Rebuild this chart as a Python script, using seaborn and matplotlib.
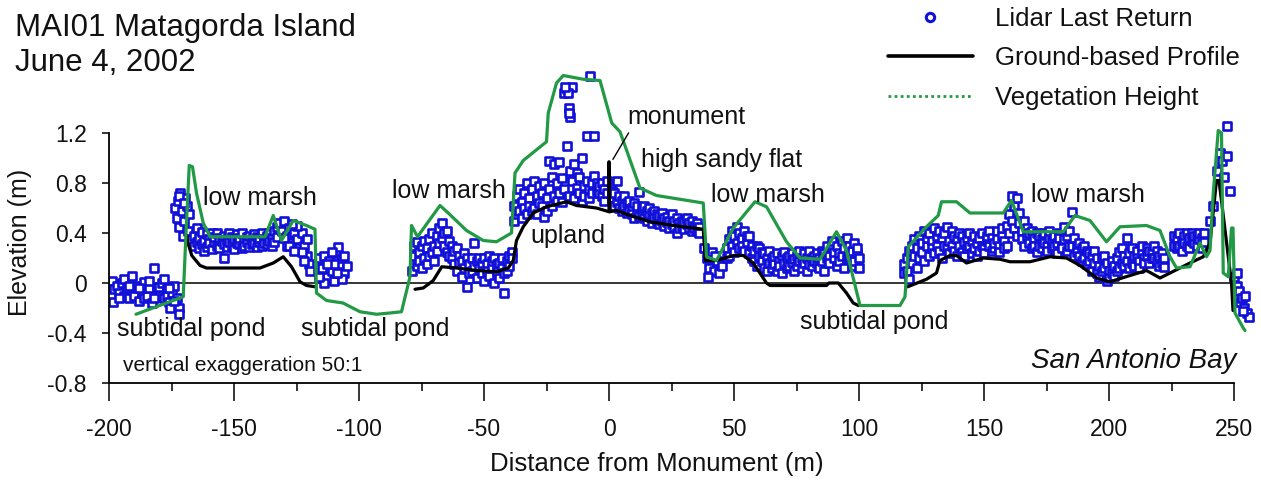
import matplotlib
matplotlib.use("Agg")
import matplotlib.pyplot as plt
import seaborn as sns
import pandas as pd
from matplotlib.lines import Line2D

# ---------------- data ----------------
title_lines = ["MAI01 Matagorda Island", "June 4, 2002"]
series_names = ["Lidar Last Return", "Ground-based Profile", "Vegetation Height"]
x_label = "Distance from Monument (m)"
y_label = "Elevation (m)"
xtick_values = [-200, -150, -100, -50, 0, 50, 100, 150, 200, 250]
xtick_labels = ["-200", "-150", "-100", "-50", "0", "50", "100", "150", "200", "250"]
xminor_values = [-175, -125, -75, -25, 25, 75, 125, 175, 225]
ytick_values = [-0.8, -0.4, 0, 0.4, 0.8, 1.2]
ytick_labels = ["-0.8", "-0.4", "0", "0.4", "0.8", "1.2"]

veg_x = [-189.2, -170.3, -169.2, -167.9, -166.6, -165.0, -162.3, -159.6, -137.6, -134.3,
         -131.0, -126.3, -121.0, -117.6, -117.0, -113.0, -106.4, -99.6, -93.0, -87.6,
         -83.0, -79.6, -79.0, -76.6, -67.6, -64.3, -57.0, -50.3, -45.0, -39.0,
         -37.6, -34.3, -25.0, -24.3, -21.0, -18.3, -10.3, -3.6, 1.1, 4.4,
         12.4, 19.0, 37.7, 39.0, 43.0, 49.7, 58.4, 63.0, 71.0, 76.4,
         84.4, 91.0, 95.0, 100.4, 116.4, 118.4, 119.7, 127.0, 131.7, 133.0,
         139.0, 144.4, 157.7, 161.0, 165.7, 181.7, 186.4, 192.4, 199.0, 204.4,
         215.0, 220.4, 224.4, 227.0, 232.4, 236.4, 239.0, 240.4, 241.7, 243.7,
         245.0, 245.7, 247.7, 249.0, 249.6, 250.4, 253.7, 254.4]
veg_y = [-0.25, -0.11, 0.40, 0.94, 0.93, 0.72, 0.48, 0.37, 0.37, 0.54,
         0.34, 0.50, 0.46, 0.43, -0.08, -0.14, -0.16, -0.23, -0.25, -0.24,
         -0.23, 0.05, 0.46, 0.37, 0.62, 0.56, 0.42, 0.34, 0.33, 0.40,
         0.88, 0.98, 1.13, 1.36, 1.60, 1.66, 1.63, 1.62, 1.28, 1.21,
         0.76, 0.70, 0.64, 0.21, 0.18, 0.44, 0.65, 0.61, 0.33, 0.20,
         0.19, 0.41, 0.26, -0.18, -0.18, -0.11, 0.29, 0.45, 0.54, 0.65,
         0.65, 0.56, 0.56, 0.66, 0.41, 0.41, 0.54, 0.50, 0.33, 0.45,
         0.46, 0.42, 0.21, 0.12, 0.13, 0.32, 0.21, 0.26, 0.72, 1.22,
         1.20, 0.08, 0.05, 0.44, 0.44, -0.24, -0.36, -0.38]

ground_x_1 = [-168.8, -168.7, -166.9, -163.6, -161.0, -139.6, -134.3, -130.3, -127.0, -123.6, -121.0, -117.6]
ground_y_1 = [0.38, 0.34, 0.22, 0.14, 0.12, 0.12, 0.16, 0.21, 0.13, 0.01, -0.02, -0.03]
ground_x_2 = [-77.6, -74.3, -70.3, -66.9, -61.0, -53.0, -45.0, -40.3, -38.3, -37.0, -34.3, -30.3, -25.0,
              -17.0, -13.0, -5.0, 0.0, 0.0, 0.3, 3.0, 8.4, 16.4, 25.7, 37.7, 38.5, 43.0, 49.7, 53.7,
              57.7, 63.0, 64.4, 87.0, 88.0, 91.7, 95.0, 97.7, 99.7]
ground_y_2 = [-0.05, -0.04, 0.02, 0.13, 0.12, 0.10, 0.09, 0.12, 0.18, 0.34, 0.45, 0.56, 0.61,
              0.65, 0.62, 0.60, 0.57, 0.97, 0.57, 0.58, 0.54, 0.49, 0.46, 0.43, 0.18, 0.18, 0.22, 0.22,
              0.16, 0.00, -0.02, -0.02, 0.00, 0.00, -0.08, -0.16, -0.18]
ground_x_3 = [119.5, 127.0, 131.0, 132.4, 136.4, 139.0, 143.0, 149.7, 156.4, 160.4, 168.4, 176.4,
              183.0, 188.4, 192.4, 195.0, 200.4, 208.4, 215.0, 220.4, 224.4, 232.4, 237.7, 240.4,
              243.0, 244.0, 249.0, 249.6]
ground_y_3 = [-0.03, 0.03, 0.08, 0.18, 0.22, 0.22, 0.16, 0.20, 0.19, 0.17, 0.17, 0.21,
              0.20, 0.14, 0.08, 0.04, 0.01, 0.06, 0.10, 0.04, 0.08, 0.16, 0.21, 0.32,
              0.82, 0.82, 0.00, -0.22]

lidar_pond_west = [(-199, 0.02), (-198.5, -0.15), (-198, -0.05), (-197, -0.02), (-196, -0.08), (-195, 0.0),
                   (-194, -0.1), (-194, 0.03), (-193, -0.04), (-192, -0.12), (-191, 0.06), (-190, -0.06),
                   (-190, -0.1), (-189, -0.02), (-188, -0.14), (-187, -0.08), (-186, 0.01), (-186, -0.12),
                   (-185, -0.1), (-184, -0.04), (-184, 0.02), (-183, -0.16), (-182, 0.12), (-181, -0.06),
                   (-180, -0.1), (-180, -0.03), (-179, 0.0), (-178, -0.12), (-178, 0.03), (-177, -0.05),
                   (-177, -0.1), (-176, -0.15), (-175.5, -0.2), (-175, -0.08), (-174, -0.02), (-173, -0.12),
                   (-172, -0.2), (-172, -0.25), (-196, -0.12), (-192, -0.02), (-188, -0.04), (-182, -0.12),
                   (-176, -0.04), (-174, -0.14)]
lidar_marsh_1 = [(-173.5, 0.6), (-173, 0.52), (-172.5, 0.66), (-172, 0.45), (-171.5, 0.72), (-171, 0.58),
                 (-170.5, 0.38), (-170, 0.5), (-169.5, 0.68), (-169, 0.62), (-168.5, 0.42), (-168, 0.55),
                 (-172, 0.7), (-170, 0.64),
                 (-166, 0.38), (-166, 0.30), (-165, 0.44), (-165, 0.33), (-164, 0.36), (-164, 0.28),
                 (-163, 0.41), (-163, 0.31), (-162, 0.34), (-162, 0.26), (-161, 0.39), (-161, 0.29),
                 (-160, 0.35), (-160, 0.32), (-159, 0.40), (-159, 0.27), (-158, 0.33), (-158, 0.37),
                 (-157, 0.30), (-157, 0.40), (-156, 0.36), (-156, 0.28), (-155, 0.34), (-154, 0.20),
                 (-154, 0.38), (-154, 0.31), (-153, 0.29), (-153, 0.35), (-152, 0.40), (-152, 0.33),
                 (-151, 0.30), (-151, 0.37), (-150, 0.35), (-150, 0.27), (-149, 0.39), (-149, 0.32),
                 (-148, 0.31), (-148, 0.36), (-147, 0.40), (-147, 0.28), (-146, 0.34), (-146, 0.30),
                 (-145, 0.37), (-145, 0.33), (-144, 0.29), (-144, 0.38), (-143, 0.35), (-143, 0.31),
                 (-142, 0.32), (-142, 0.39), (-141, 0.37), (-141, 0.29), (-140, 0.33), (-140, 0.36),
                 (-139, 0.40), (-139, 0.30), (-138, 0.35), (-138, 0.32), (-137, 0.38), (-137, 0.31),
                 (-136, 0.34), (-136, 0.40), (-135, 0.36), (-135, 0.30), (-134, 0.42), (-134, 0.33),
                 (-133, 0.37), (-133, 0.45),
                 (-132, 0.48), (-131, 0.42), (-130, 0.5), (-129, 0.38), (-128, 0.44), (-127, 0.32),
                 (-126, 0.4), (-125, 0.35), (-124, 0.28), (-123, 0.4), (-122, 0.3), (-121, 0.22),
                 (-120, 0.15), (-121, 0.35), (-123, 0.25), (-125, 0.46), (-127, 0.47), (-129, 0.3),
                 (-119.5, 0.1), (-122, 0.18), (-130, 0.36), (-128, 0.3), (-126, 0.26),
                 (-116, 0.2), (-115, 0.12), (-114, 0.22), (-113, 0.05), (-112, 0.18), (-111, 0.1),
                 (-110, 0.02), (-109, 0.24), (-108.5, 0.29), (-108, 0.15), (-107, 0.2), (-106, 0.08),
                 (-105, 0.14), (-114, 0.0), (-111, 0.25), (-107, 0.03), (-116, 0.05), (-110, 0.15),
                 (-113, 0.15), (-109, 0.08), (-106, 0.22)]
lidar_marsh_2 = [(-79, 0.1), (-78, 0.22), (-78, 0.3), (-77, 0.14), (-77, 0.33), (-76, 0.25), (-76, 0.18),
                 (-75, 0.3), (-75, 0.12), (-74, 0.2), (-74, 0.34), (-73, 0.28), (-73, 0.15), (-72, 0.35),
                 (-72, 0.22), (-71, 0.25), (-71, 0.4), (-70, 0.3), (-70, 0.18), (-69, 0.38), (-69, 0.26),
                 (-68, 0.32), (-68, 0.44), (-67, 0.48), (-67, 0.36), (-66, 0.4), (-66, 0.3), (-65, 0.42),
                 (-65, 0.25), (-64, 0.34), (-64, 0.22), (-63, 0.3), (-63, 0.2), (-62, 0.26), (-62, 0.15),
                 (-61, 0.28), (-61, 0.1), (-60, 0.22), (-60, 0.16), (-59, 0.18), (-59, 0.05), (-58, 0.24),
                 (-58, 0.12), (-57, -0.03), (-57, 0.2), (-56, 0.15), (-56, 0.08), (-55, 0.2), (-55, 0.1),
                 (-54, 0.32), (-54, 0.14), (-53, 0.18), (-53, 0.04), (-52, 0.2), (-52, 0.12), (-51, 0.08),
                 (-51, 0.16), (-50, 0.2), (-50, 0.02), (-49, 0.15), (-49, 0.1), (-48, 0.22), (-48, 0.06),
                 (-47, 0.12), (-47, 0.18), (-46, 0.2), (-46, 0.0), (-45, 0.1), (-45, 0.15), (-44, 0.16),
                 (-44, 0.04), (-43, 0.2), (-43, 0.12), (-42, -0.08), (-42, 0.08), (-41, 0.18), (-41, 0.1),
                 (-40, 0.22), (-40, 0.14), (-39, 0.25), (-39, 0.2)]
lidar_upland = [(-38, 0.5), (-38, 0.62), (-37, 0.7), (-37, 0.55), (-36, 0.58), (-36, 0.75), (-35, 0.65),
                (-35, 0.52), (-34, 0.72), (-34, 0.6), (-33, 0.55), (-33, 0.8), (-32, 0.68), (-32, 0.62),
                (-31, 0.75), (-31, 0.58), (-30, 0.6), (-30, 0.82), (-29, 0.7), (-29, 0.55), (-28, 0.78),
                (-28, 0.64), (-27, 0.62), (-27, 0.72), (-26, 0.53), (-26, 0.8), (-25, 0.68), (-25, 0.58),
                (-24, 0.75), (-24, 0.98), (-23, 0.62), (-23, 0.85), (-22, 0.7), (-22, 0.95), (-21, 0.8),
                (-21, 0.66), (-20, 0.72), (-20, 0.97), (-19, 0.65), (-19, 0.84), (-18, 1.52), (-18, 0.75),
                (-17, 1.55), (-17, 1.1), (-16, 1.4), (-16, 0.7), (-15.5, 1.33), (-15.5, 0.9), (-15, 1.57),
                (-15, 0.82), (-14, 0.95), (-14, 0.68), (-13, 0.88), (-13, 0.76), (-12, 0.72), (-12, 0.85),
                (-11, 1.0), (-11, 0.66), (-10, 0.78), (-10, 0.7), (-9, 1.18), (-9, 0.82), (-8, 0.75),
                (-8, 0.68), (-7.5, 1.66), (-7, 0.8), (-7, 0.72), (-6, 1.18), (-6, 0.86), (-5, 0.74),
                (-5, 0.8), (-16.5, 1.52), (-17.5, 1.57), (-16, 1.36)]
lidar_sandy_flat = [(-4, 0.72), (-4, 0.78), (-3, 0.8), (-3, 0.7), (-2, 0.75), (-2, 0.66), (-1, 0.82),
                    (-1, 0.72), (1, 0.68), (1, 0.74), (2, 0.62), (2, 0.72), (3, 0.82), (3, 0.65), (4, 0.6),
                    (4, 0.7), (5, 0.66), (5, 0.58), (6, 0.7), (6, 0.62), (7, 0.56), (7, 0.64), (8, 0.66),
                    (8, 0.58), (9, 0.6), (9, 0.55), (10, 0.64), (10, 0.52), (11, 0.58), (11, 0.62),
                    (12, 0.73), (12, 0.54), (13, 0.56), (13, 0.6), (14, 0.52), (14, 0.62), (15, 0.58),
                    (15, 0.5), (16, 0.55), (16, 0.6), (17, 0.48), (17, 0.56), (18, 0.58), (18, 0.52),
                    (19, 0.5), (19, 0.55), (20, 0.54), (20, 0.47), (21, 0.56), (21, 0.5), (22, 0.46),
                    (22, 0.52), (23, 0.53), (23, 0.49), (24, 0.5), (24, 0.44), (25, 0.55), (25, 0.47),
                    (26, 0.45), (26, 0.5), (27, 0.4), (27, 0.52), (28, 0.48), (28, 0.44), (29, 0.5),
                    (29, 0.46), (30, 0.43), (30, 0.49), (31, 0.47), (31, 0.52), (32, 0.44), (32, 0.48),
                    (33, 0.5), (33, 0.42), (34, 0.46), (34, 0.44), (35, 0.42), (35, 0.48), (36, 0.45),
                    (36, 0.4)]
lidar_marsh_3 = [(38, 0.28), (39, 0.2), (40, 0.12), (41, 0.25), (42, 0.1), (43, 0.18), (44, 0.08), (45, 0.14),
                 (39.5, 0.05), (42.5, 0.22),
                 (47, 0.28), (47, 0.2), (48, 0.35), (48, 0.22), (49, 0.42), (49, 0.3), (50, 0.38), (50, 0.25),
                 (51, 0.45), (51, 0.32), (52, 0.4), (52, 0.28), (53, 0.36), (53, 0.3), (54, 0.42), (54, 0.26),
                 (55, 0.33), (55, 0.38), (56, 0.38), (56, 0.24), (57, 0.3), (57, 0.2), (58, 0.26), (58, 0.18),
                 (59, 0.3), (59, 0.14), (60, 0.22), (60, 0.28), (61, 0.18), (61, 0.25), (62, 0.24), (62, 0.12),
                 (63, 0.1), (63, 0.2), (64, 0.26), (64, 0.16), (65, 0.2), (65, 0.12), (66, 0.15), (66, 0.22),
                 (67, 0.24), (67, 0.1), (68, 0.18), (68, 0.14), (69, 0.22), (69, 0.08), (70, 0.16), (70, 0.25),
                 (71, 0.2), (71, 0.12), (72, 0.14), (72, 0.22), (73, 0.24), (73, 0.17), (74, 0.1), (74, 0.19),
                 (75, 0.22), (75, 0.14), (76, 0.18), (76, 0.26), (77, 0.12), (77, 0.2), (78, 0.24), (78, 0.16),
                 (79, 0.2), (79, 0.1), (80, 0.26), (80, 0.15), (81, 0.14), (81, 0.2), (82, 0.22), (82, 0.18),
                 (83, 0.16), (83, 0.24), (84, 0.2), (84, 0.12), (85, 0.18), (85, 0.26), (86, 0.24), (86, 0.1),
                 (87, 0.3), (87, 0.2), (88, 0.22), (88, 0.16), (89, 0.28), (89, 0.34), (90, 0.2), (90, 0.25),
                 (91, 0.3), (91, 0.14), (92, 0.24), (92, 0.18), (93, 0.34), (93, 0.22), (94, 0.28), (94, 0.12),
                 (95, 0.36), (95, 0.2), (96, 0.22), (96, 0.3), (97, 0.14), (97, 0.26), (98, 0.32), (98, 0.18),
                 (99, 0.24), (99, 0.28), (100, 0.2), (100, 0.12)]
lidar_marsh_4 = [(118, 0.08), (118, 0.15), (119, 0.2), (119, 0.1), (120, 0.26), (120, 0.03), (121, 0.3),
                 (121, 0.16), (122, 0.22), (122, 0.35), (123, 0.28), (123, 0.12), (124, 0.38), (124, 0.2),
                 (125, 0.25), (125, 0.32), (126, 0.42), (126, 0.18), (127, 0.3), (127, 0.36), (128, 0.22),
                 (128, 0.4), (129, 0.34), (129, 0.28), (130, 0.44), (130, 0.24), (131, 0.3), (131, 0.38),
                 (132, 0.26), (132, 0.42), (133, 0.36), (133, 0.2), (134, 0.4), (134, 0.3), (135, 0.28),
                 (135, 0.45), (136, 0.34), (136, 0.24), (137, 0.42), (137, 0.3), (138, 0.26), (138, 0.38),
                 (139, 0.35), (139, 0.22), (140, 0.3), (140, 0.4), (141, 0.38), (141, 0.25), (142, 0.22),
                 (142, 0.33), (143, 0.36), (143, 0.28), (144, 0.3), (144, 0.4), (145, 0.24), (145, 0.34),
                 (146, 0.38), (146, 0.28), (147, 0.32), (147, 0.22), (148, 0.26), (148, 0.36), (149, 0.4),
                 (149, 0.3), (150, 0.28), (150, 0.24), (151, 0.34), (151, 0.38), (152, 0.3), (152, 0.42),
                 (153, 0.36), (153, 0.26), (154, 0.28), (154, 0.32), (155, 0.42), (155, 0.35), (156, 0.3),
                 (156, 0.25), (157, 0.38), (157, 0.44), (158, 0.34), (158, 0.28), (159, 0.46), (159, 0.3),
                 (160, 0.55), (160, 0.4), (161, 0.7), (161, 0.5), (162, 0.62), (162, 0.44), (163, 0.68),
                 (163, 0.38), (164, 0.48), (164, 0.56), (165, 0.42), (165, 0.35), (166, 0.5), (166, 0.3),
                 (167, 0.38), (167, 0.44), (168, 0.32), (168, 0.4), (169, 0.42), (169, 0.28), (170, 0.36),
                 (170, 0.3), (171, 0.4), (171, 0.25), (172, 0.3), (172, 0.38), (173, 0.35), (173, 0.28),
                 (174, 0.4), (174, 0.32), (175, 0.3), (175, 0.26), (176, 0.36), (176, 0.42), (177, 0.28),
                 (177, 0.34), (178, 0.38), (178, 0.3), (179, 0.32), (179, 0.24), (180, 0.4), (180, 0.36),
                 (181, 0.3), (181, 0.28), (182, 0.45), (182, 0.35), (183, 0.38), (183, 0.26), (184, 0.42),
                 (184, 0.3), (185, 0.3), (185, 0.57), (186, 0.36), (186, 0.22), (187, 0.3), (187, 0.25),
                 (188, 0.22), (188, 0.32), (189, 0.28), (189, 0.18), (190, 0.2), (190, 0.3), (191, 0.26),
                 (191, 0.15), (192, 0.18), (192, 0.24), (193, 0.22), (193, 0.1), (194, 0.16), (194, 0.26),
                 (195, 0.08), (195, 0.2), (196, 0.14), (196, 0.05), (197, 0.2), (197, 0.1), (198, 0.12),
                 (198, 0.22), (199, 0.02), (199, 0.16), (200, 0.1), (200, 0.04), (201, 0.18), (201, 0.08),
                 (202, 0.06), (202, 0.14), (203, 0.2), (203, 0.1), (204, 0.12), (204, 0.25), (205, 0.28),
                 (205, 0.16), (206, 0.14), (206, 0.22), (207, 0.36), (207, 0.18), (208, 0.24), (208, 0.12),
                 (209, 0.16), (209, 0.28), (210, 0.22), (210, 0.14), (211, 0.26), (211, 0.2), (212, 0.18),
                 (212, 0.12), (213, 0.24), (213, 0.3), (214, 0.2), (214, 0.16), (215, 0.28), (215, 0.22),
                 (216, 0.16), (216, 0.26), (217, 0.24), (217, 0.2), (218, 0.2), (218, 0.3), (219, 0.26),
                 (219, 0.18), (220, 0.22), (220, 0.14), (221, 0.16), (221, 0.24), (222, 0.13), (222, 0.2),
                 (226, 0.3), (226, 0.38), (227, 0.36), (227, 0.28), (228, 0.4), (228, 0.3), (229, 0.34),
                 (229, 0.26), (230, 0.38), (230, 0.32), (231, 0.3), (231, 0.4), (232, 0.36), (232, 0.28),
                 (233, 0.4), (233, 0.34), (234, 0.32), (234, 0.38), (235, 0.38), (235, 0.3), (236, 0.35),
                 (236, 0.4), (237, 0.28), (237, 0.36), (238, 0.4), (238, 0.33)]
lidar_bay = [(240.4, 0.5), (241.5, 0.62), (243, 0.9), (244.4, 1.04), (245, 0.98), (247, 1.26), (247.3, 1.02),
             (248.4, 0.74), (246, 0.85), (250, 0.05), (251, -0.02), (251.5, -0.1), (252, -0.06),
             (252.5, -0.15), (253, -0.12), (254, -0.2), (254.5, -0.1), (255, -0.24), (256, -0.27),
             (251, 0.08), (253.5, -0.22)]

annotations = [
    ("low marsh", -162.4, 0.68),
    ("subtidal pond", -196.8, -0.37),
    ("subtidal pond", -123.2, -0.37),
    ("low marsh", -86.8, 0.74),
    ("upland", -31.6, 0.38),
    ("monument", 7.2, 1.33),
    ("high sandy flat", 12.8, 0.98),
    ("low marsh", 40.8, 0.70),
    ("subtidal pond", 76.4, -0.31),
    ("low marsh", 168.8, 0.70),
]
note_scale = "vertical exaggeration 50:1"
note_bay = "San Antonio Bay"

# ---------------- frames ----------------
lidar_df = pd.DataFrame(lidar_pond_west + lidar_marsh_1 + lidar_marsh_2 + lidar_upland +
                        lidar_sandy_flat + lidar_marsh_3 + lidar_marsh_4 + lidar_bay,
                        columns=["x", "y"])
ground_df = pd.concat([
    pd.DataFrame({"x": ground_x_1, "y": ground_y_1, "seg": 1}),
    pd.DataFrame({"x": ground_x_2, "y": ground_y_2, "seg": 2}),
    pd.DataFrame({"x": ground_x_3, "y": ground_y_3, "seg": 3}),
], ignore_index=True)
veg_df = pd.DataFrame({"x": veg_x, "y": veg_y})

# ---------------- style ----------------
sns.set_style("ticks")
plt.rcParams["font.family"] = ["Liberation Sans", "DejaVu Sans"]
plt.rcParams["axes.unicode_minus"] = False

BLUE = "#1010d8"
GREEN = "#229944"
TXT = "#111111"

fig = plt.figure(figsize=(12.61, 4.83), dpi=100)
ax = fig.add_axes([109 / 1261, 100 / 483, 1145 / 1261, 319 / 483])

ax.axhline(0, xmin=0, xmax=450 / 458, color="black", lw=1.1, zorder=0.9)

sns.scatterplot(data=lidar_df, x="x", y="y", ax=ax, marker="s", s=30, color="white",
                edgecolor=BLUE, linewidth=1.9, legend=False, zorder=1)
sns.lineplot(data=ground_df, x="x", y="y", units="seg", estimator=None, sort=False,
             color="black", lw=2.3, ax=ax, legend=False, zorder=2)
sns.lineplot(data=veg_df, x="x", y="y", estimator=None, sort=False,
             color=GREEN, lw=2.3, ax=ax, legend=False, zorder=3)

ax.set_xlim(-200, 258)
ax.set_ylim(-0.8, 1.752)
sns.despine(ax=ax)
ax.spines["left"].set_bounds(-0.8, 1.2)
ax.spines["bottom"].set_bounds(-200, 250)
for sp in ("left", "bottom"):
    ax.spines[sp].set_linewidth(1.3)
    ax.spines[sp].set_color("black")

ax.set_xticks(xtick_values)
ax.set_xticklabels(xtick_labels)
ax.set_xticks(xminor_values, minor=True)
ax.set_yticks(ytick_values)
ax.set_yticklabels(ytick_labels)
ax.tick_params(axis="x", which="major", length=13, width=1.3, direction="out", pad=12,
               labelsize=16.5, labelcolor=TXT)
ax.tick_params(axis="x", which="minor", length=6, width=1.3, direction="out")
ax.tick_params(axis="y", which="major", length=5, width=1.3, direction="out", pad=11,
               labelsize=16.5, labelcolor=TXT)

ax.set_xlabel(x_label, fontsize=18.5, color=TXT)
ax.set_ylabel(y_label, fontsize=18, color=TXT)
ax.xaxis.set_label_coords((657 - 109) / 1145, (383 - 452) / 319)
ax.yaxis.set_label_coords((32 - 109) / 1145, (383 - 242) / 319)

for txt, xv, yv in annotations:
    ax.text(xv, yv, txt, fontsize=18, ha="left", va="center", color=TXT)
ax.annotate("", xy=(1, 0.97), xytext=(8.4, 1.22),
            arrowprops=dict(arrowstyle="-", lw=1.0, color="black"))
ax.text(-194.4, -0.66, note_scale, fontsize=15, ha="left", va="center", color=TXT)
ax.text(251, -0.62, note_bay, fontsize=20, ha="right", va="center", style="italic", color=TXT)

fig.text(15 / 1261, 1 - 36 / 483, title_lines[0], fontsize=22.5, ha="left", va="baseline", color=TXT)
fig.text(15 / 1261, 1 - 71 / 483, title_lines[1], fontsize=22.5, ha="left", va="baseline", color=TXT)

handles = [
    Line2D([], [], ls="none", marker="o", markersize=6, markerfacecolor="white",
           markeredgecolor=BLUE, markeredgewidth=2.2),
    Line2D([], [], color="black", lw=2.6),
    Line2D([], [], color=GREEN, lw=2.0, ls=(0, (1, 1.2))),
]
fig.legend(handles, series_names, loc="upper left", bbox_to_anchor=(888 / 1261, 1 - 7 / 483),
           frameon=False, fontsize=18.5, handlelength=3.3, handletextpad=0.85,
           labelspacing=0.6, borderpad=0, borderaxespad=0, labelcolor=TXT)

fig.savefig("out.png", dpi=100)
